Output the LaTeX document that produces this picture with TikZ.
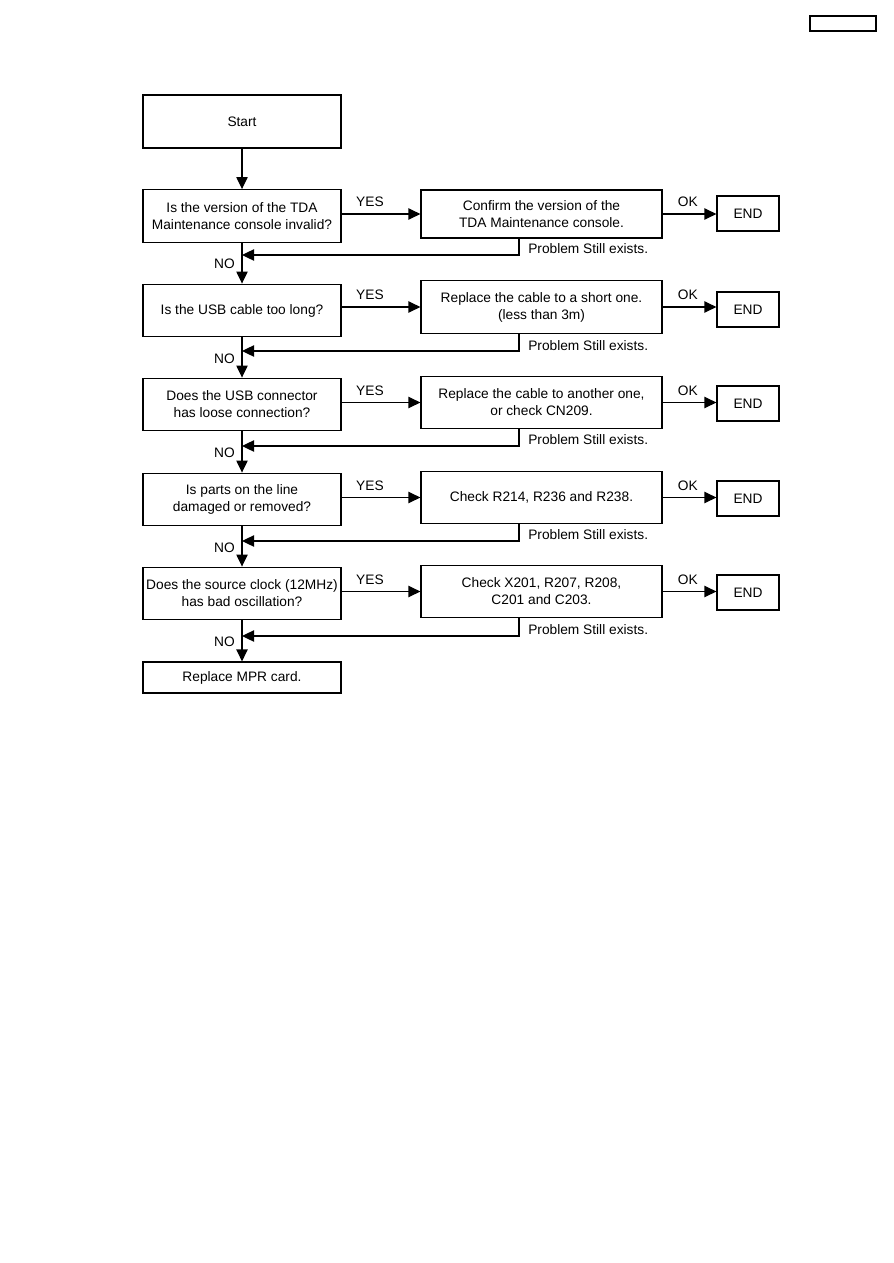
\documentclass[tikz,border=0pt]{standalone}
\usepackage{fontspec}
\setmainfont{Liberation Sans}
\usetikzlibrary{arrows.meta}
\begin{document}
\begin{tikzpicture}[x=0.75pt, y=-0.75pt, line join=miter,
    box/.style={draw, line width=0.9pt, inner sep=0pt, align=center,
      font=\fontsize{10.3}{12.75}\selectfont},
    qbox/.style={box, minimum width=148.5pt, minimum height=39.5pt},
    abox/.style={box, minimum width=180.75pt, minimum height=39.5pt},
    endbox/.style={box, minimum width=46.5pt, minimum height=26.25pt},
    flow/.style={line width=0.9pt, -{Triangle[length=9pt, width=8.5pt]}},
    lbl/.style={font=\fontsize{10.3}{12.75}\selectfont, inner sep=5pt}]
  \path[use as bounding box, fill=white] (0,0) rectangle (893,1263);
  % header tag
  \node[draw, line width=0.9pt, minimum width=49.5pt, minimum height=11.25pt] (tag) at (843,23.5) {};
  % main column
  \node[qbox, minimum height=39.75pt] (start) at (242,121.5) {Start};
  \node[qbox] (q1) at (242,216) {Is the version of the TDA\\Maintenance console invalid?};
  \node[qbox] (q2) at (242,310.5) {Is the USB cable too long?};
  \node[qbox] (q3) at (242,404.5) {Does the USB connector\\has loose connection?};
  \node[qbox] (q4) at (242,499.5) {Is parts on the line\\damaged or removed?};
  \node[qbox] (q5) at (242,593.5) {Does the source clock (12MHz)\\has bad oscillation?};
  \node[qbox, minimum height=23.25pt] (fin) at (242,677.5) {Replace MPR card.};
  % actions
  \node[abox, minimum height=36pt] (a1) at (541.5,214) {Confirm the version of the\\TDA Maintenance console.};
  \node[abox] (a2) at (541.5,307) {Replace the cable to a short one.\\(less than 3m)};
  \node[abox] (a3) at (541.5,402.5) {Replace the cable to another one,\\or check CN209.};
  \node[abox] (a4) at (541.5,497.5) {Check R214, R236 and R238.};
  \node[abox] (a5) at (541.5,591.5) {Check X201, R207, R208,\\C201 and C203.};
  % ends
  \node[endbox] (e1) at (748,213.5) {END};
  \node[endbox] (e2) at (748,309.5) {END};
  \node[endbox] (e3) at (748,403.5) {END};
  \node[endbox] (e4) at (748,498.5) {END};
  \node[endbox] (e5) at (748,592.5) {END};
  % return points
  \coordinate (j1) at (242,255);
  \coordinate (j2) at (242,351);
  \coordinate (j3) at (242,446);
  \coordinate (j4) at (242,541);
  \coordinate (j5) at (242,636);
  % NO path
  \draw[flow] (start) -- (q1);
  \draw[flow] (q1) -- node[lbl, left, pos=0.52] {NO} (q2);
  \draw[flow] (q2) -- node[lbl, left, pos=0.52] {NO} (q3);
  \draw[flow] (q3) -- node[lbl, left, pos=0.52] {NO} (q4);
  \draw[flow] (q4) -- node[lbl, left, pos=0.52] {NO} (q5);
  \draw[flow] (q5) -- node[lbl, left, pos=0.52] {NO} (fin);
  % YES path
  \draw[flow] (a1 -| q1.east) -- node[lbl, above, pos=0.36] {YES} (a1);
  \draw[flow] (a2 -| q2.east) -- node[lbl, above, pos=0.36] {YES} (a2);
  \draw[flow] (a3 -| q3.east) -- node[lbl, above, pos=0.36] {YES} (a3);
  \draw[flow] (a4 -| q4.east) -- node[lbl, above, pos=0.36] {YES} (a4);
  \draw[flow] (a5 -| q5.east) -- node[lbl, above, pos=0.36] {YES} (a5);
  % OK path
  \draw[flow] (a1.east) -- node[lbl, above, pos=0.47] {OK} (a1 -| e1.west);
  \draw[flow] (a2.east) -- node[lbl, above, pos=0.47] {OK} (a2 -| e2.west);
  \draw[flow] (a3.east) -- node[lbl, above, pos=0.47] {OK} (a3 -| e3.west);
  \draw[flow] (a4.east) -- node[lbl, above, pos=0.47] {OK} (a4 -| e4.west);
  \draw[flow] (a5.east) -- node[lbl, above, pos=0.47] {OK} (a5 -| e5.west);
  % problem still exists
  \draw[flow] ([xshift=-16.9pt]a1.south) |- (j1);
  \draw[flow] ([xshift=-16.9pt]a2.south) |- (j2);
  \draw[flow] ([xshift=-16.9pt]a3.south) |- (j3);
  \draw[flow] ([xshift=-16.9pt]a4.south) |- (j4);
  \draw[flow] ([xshift=-16.9pt]a5.south) |- (j5);
  \node[lbl, inner sep=0pt, anchor=west] (p1) at (528,249) {Problem Still exists.};
  \node[lbl, inner sep=0pt, anchor=west] (p2) at (528,346) {Problem Still exists.};
  \node[lbl, inner sep=0pt, anchor=west] (p3) at (528,440) {Problem Still exists.};
  \node[lbl, inner sep=0pt, anchor=west] (p4) at (528,535) {Problem Still exists.};
  \node[lbl, inner sep=0pt, anchor=west] (p5) at (528,630) {Problem Still exists.};
\end{tikzpicture}
\end{document}
